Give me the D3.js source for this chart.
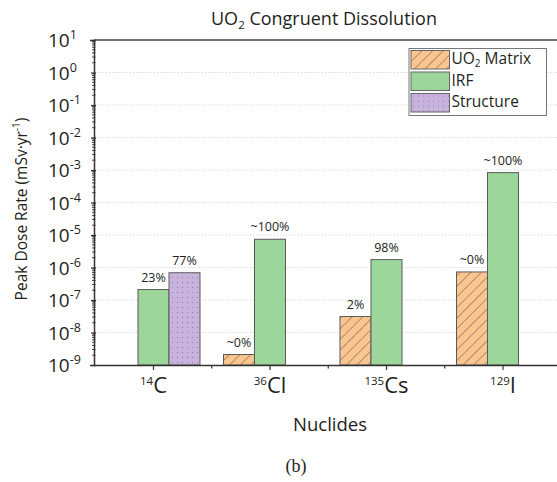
<!DOCTYPE html>
<html>
<head>
<meta charset="utf-8">
<script src="https://cdn.jsdelivr.net/npm/d3@7"></script>
<style>
  html, body { margin: 0; padding: 0; background: #fff; }
  svg { display: block; }
  text { font-family: "Open Sans", "Noto Sans", sans-serif; fill: #231f20; }
</style>
</head>
<body>
<svg id="chart" width="557" height="482"></svg>
<script>
// Nuclides on the x axis (mass number + element symbol)
const massNumbers = ["14", "36", "135", "129"];
const elements = ["C", "Cl", "Cs", "I"];
const nuclides = massNumbers.map((m, i) => m + elements[i]);

// Peak dose rate per source term (mSv/yr); null = not present
const seriesNames = ["UO2 Matrix", "IRF", "Structure"];
const uo2Matrix = [null, 2.1e-9, 3.1e-8, 7.3e-7];
const irf = [2.1e-7, 7.4e-6, 1.75e-6, 8.3e-4];
const structure = [6.9e-7, null, null, null];

// Share of the total dose printed over each bar
const uo2Labels = [null, "~0%", "2%", "~0%"];
const irfLabels = ["23%", "~100%", "98%", "~100%"];
const structureLabels = ["77%", null, null, null];

// Decade ticks on the log axis
const yExponents = [1, 0, -1, -2, -3, -4, -5, -6, -7, -8, -9];

const seriesValues = [uo2Matrix, irf, structure];
const seriesLabels = [uo2Labels, irfLabels, structureLabels];
const fills = ["url(#hatch)", "#9cd69b", "url(#dots)"];

const svg = d3.select("#chart");
const plotLeft = 94, plotTop = 40, plotBottom = 365;

// Patterns
const defs = svg.append("defs");
const hatch = defs.append("pattern").attr("id", "hatch")
  .attr("patternUnits", "userSpaceOnUse").attr("width", 7.5).attr("height", 7.5)
  .attr("patternTransform", "rotate(45)");
hatch.append("rect").attr("width", 7.5).attr("height", 7.5).attr("fill", "#fbc58f");
hatch.append("line").attr("x1", 0).attr("y1", 0).attr("x2", 0).attr("y2", 7.5)
  .attr("stroke", "#66584c").attr("stroke-width", 1);
const dots = defs.append("pattern").attr("id", "dots")
  .attr("patternUnits", "userSpaceOnUse").attr("width", 5).attr("height", 5);
dots.append("rect").attr("width", 5).attr("height", 5).attr("fill", "#c8b3dd");
dots.append("circle").attr("cx", 2.5).attr("cy", 2.5).attr("r", 0.6).attr("fill", "#8d7aa3");

// Scales
const x = d3.scaleBand().domain(nuclides).range([95.25, 561.25]);
const x1 = d3.scaleBand().domain(seriesNames).range([0, x.bandwidth()]).paddingOuter(0.379);
const y = d3.scaleLog().domain([1e-9, 10]).range([plotBottom, plotTop]);

// Dotted grid at each decade
svg.append("g").selectAll("line").data(yExponents.filter(e => e < 1 && e > -9)).join("line")
  .attr("x1", plotLeft).attr("x2", 557)
  .attr("y1", e => y(Math.pow(10, e))).attr("y2", e => y(Math.pow(10, e)))
  .attr("stroke", "#c9c9c9").attr("stroke-width", 0.8).attr("stroke-dasharray", "1.2,1.8");

// Bars
const barData = [];
seriesValues.forEach((vals, s) => vals.forEach((v, i) => {
  if (v != null) barData.push({ s, i, v, label: seriesLabels[s][i] });
}));
const gBars = svg.append("g");
gBars.selectAll("rect").data(barData).join("rect")
  .attr("x", d => x(nuclides[d.i]) + x1(seriesNames[d.s]))
  .attr("width", x1.bandwidth())
  .attr("y", d => y(d.v))
  .attr("height", d => plotBottom - y(d.v))
  .attr("fill", d => fills[d.s])
  .attr("stroke", "#5a5a5a").attr("stroke-width", 1);

gBars.selectAll("text").data(barData.filter(d => d.label)).join("text")
  .attr("x", d => x(nuclides[d.i]) + x1(seriesNames[d.s]) + x1.bandwidth() / 2)
  .attr("y", d => y(d.v) - 8)
  .attr("text-anchor", "middle").attr("font-size", 12.5).attr("fill", "#333")
  .text(d => d.label);

// Y axis
const yAxis = d3.axisLeft(y)
  .tickValues(yExponents.map(e => Math.pow(10, e)))
  .tickSize(4).tickFormat(() => "");
const gy = svg.append("g").attr("transform", `translate(${plotLeft},0)`).call(yAxis);
gy.select(".domain").attr("stroke", "#333").attr("stroke-width", 1.5);
gy.selectAll(".tick line").attr("stroke", "#333").attr("stroke-width", 1.2).attr("x2", -3).attr("x1", 2);
// minor ticks
const minor = [];
for (let e = -9; e < 1; e++) for (let k = 2; k <= 9; k++) minor.push(k * Math.pow(10, e));
gy.append("g").selectAll("line").data(minor).join("line")
  .attr("x1", -2).attr("x2", 1.5)
  .attr("y1", d => y(d)).attr("y2", d => y(d))
  .attr("stroke", "#333").attr("stroke-width", 0.9);
// decade labels: 10 with superscript exponent
const ylab = gy.selectAll(".tick").append("text")
  .attr("x", -46).attr("y", 6.5).attr("text-anchor", "start")
  .attr("font-size", 19).attr("fill", "#231f20");
ylab.append("tspan").text("10");
ylab.append("tspan").attr("font-size", 12.5).attr("dy", -8)
  .text(d => String(Math.round(Math.log10(d))));

// X axis
const xAxis = d3.axisBottom(x).tickSize(5).tickFormat(() => "");
const gx = svg.append("g").attr("transform", `translate(0,${plotBottom})`).call(xAxis);
gx.select(".domain").attr("d", `M${plotLeft},0.5H557`).attr("stroke", "#333").attr("stroke-width", 1.5);
gx.selectAll(".tick line").attr("stroke", "#333").attr("stroke-width", 1.2);
gx.append("g").selectAll("line").data(nuclides.slice(1)).join("line")
  .attr("x1", d => x(d)).attr("x2", d => x(d)).attr("y1", 0).attr("y2", 3.5)
  .attr("stroke", "#333").attr("stroke-width", 1.2);
const xlab = gx.selectAll(".tick").append("text")
  .attr("y", 28).attr("text-anchor", "middle").attr("font-size", 22).attr("fill", "#231f20");
xlab.append("tspan").attr("font-size", 11.5).attr("dy", -8)
  .text((d, i) => massNumbers[i]);
xlab.append("tspan").attr("dy", 8).text((d, i) => elements[i]);

// Top frame line
svg.append("line").attr("x1", plotLeft).attr("x2", 557).attr("y1", plotTop).attr("y2", plotTop)
  .attr("stroke", "#444").attr("stroke-width", 1.5);

// Title
const title = svg.append("text").attr("x", 324).attr("y", 25)
  .attr("text-anchor", "middle").attr("font-size", 18);
title.append("tspan").text("UO");
title.append("tspan").attr("font-size", 11.5).attr("dy", 3.5).text("2");
title.append("tspan").attr("dy", -3.5).text(" Congruent Dissolution");

// Axis titles
const ytitle = svg.append("text")
  .attr("transform", "translate(27,209) rotate(-90)")
  .attr("text-anchor", "middle").attr("font-size", 15.5);
ytitle.append("tspan").text("Peak Dose Rate (mSv·yr");
ytitle.append("tspan").attr("font-size", 10).attr("dy", -7).text("-1");
ytitle.append("tspan").attr("dy", 7).text(")");

svg.append("text").attr("x", 330).attr("y", 431)
  .attr("text-anchor", "middle").attr("font-size", 18.5).text("Nuclides");

svg.append("text").attr("x", 296).attr("y", 472)
  .attr("text-anchor", "middle").attr("font-size", 18)
  .style("font-family", "'Liberation Serif', 'DejaVu Serif', serif").text("(b)");

// Legend
const lg = svg.append("g");
lg.append("rect").attr("x", 409).attr("y", 48.5).attr("width", 137.5).attr("height", 67)
  .attr("fill", "#fff").attr("stroke", "#777").attr("stroke-width", 1);
const legendRows = seriesNames.map((n, s) => ({ n, s }));
const row = lg.selectAll("g").data(legendRows).join("g")
  .attr("transform", d => `translate(411,${50.5 + d.s * 21.5})`);
row.append("rect").attr("width", 38.5).attr("height", 18.5)
  .attr("fill", d => fills[d.s]).attr("stroke", "#666").attr("stroke-width", 1);
const lt = row.append("text").attr("x", 40.5).attr("y", 13.5).attr("font-size", 15.5);
lt.each(function (d) {
  const t = d3.select(this);
  if (d.n === "UO2 Matrix") {
    t.append("tspan").text("UO");
    t.append("tspan").attr("font-size", 10).attr("dy", 3).text("2");
    t.append("tspan").attr("dy", -3).text(" Matrix");
  } else {
    t.text(d.n);
  }
});
</script>
</body>
</html>
